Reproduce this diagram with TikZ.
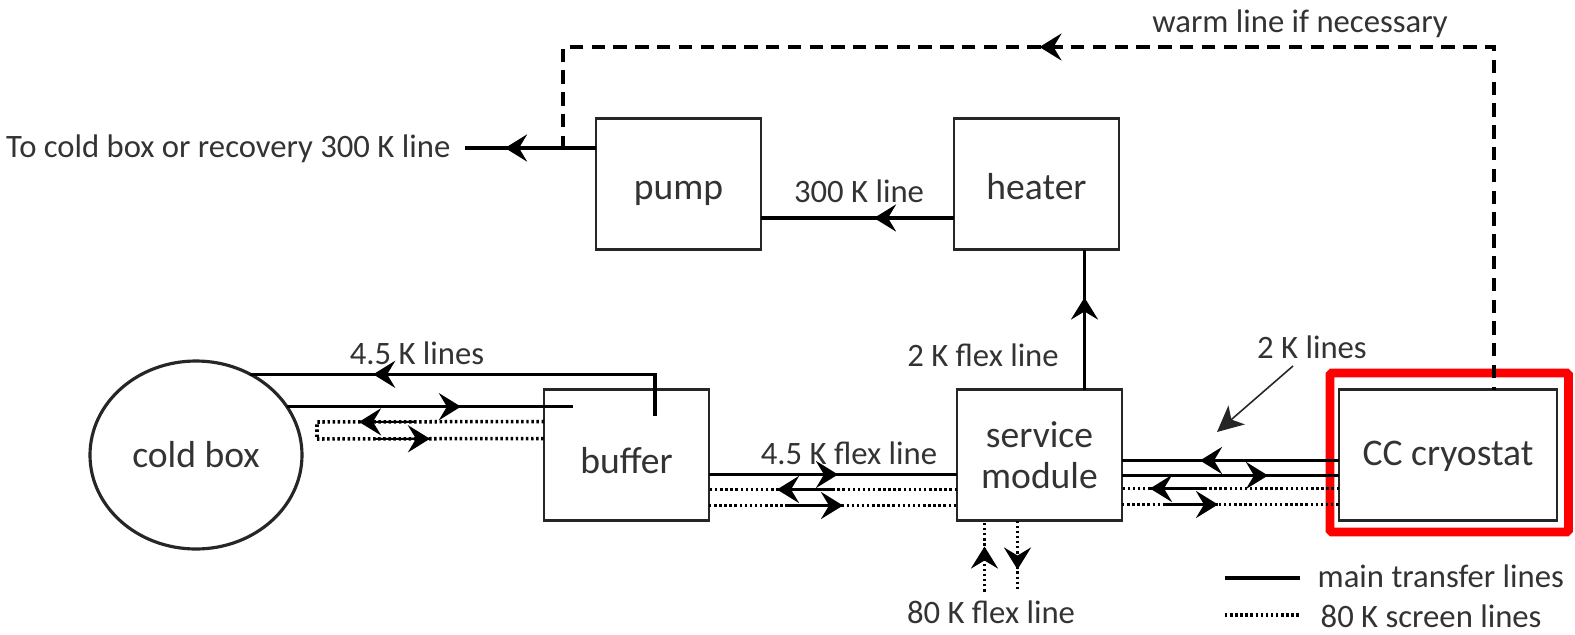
\documentclass[tikz,border=0pt]{standalone}
\usepackage{fontspec}
\setmainfont{Carlito}
\usetikzlibrary{positioning,shapes.geometric,arrows.meta,decorations.markings}

\begin{document}
\begin{tikzpicture}[
  bx/.style={draw=black!85, line width=0.8pt, minimum width=1.65cm, minimum height=1.31cm,
             align=center, inner sep=1pt, outer sep=0pt, text=black!80,
             font=\fontsize{10.7}{11.6}\selectfont},
  lowtxt/.style={text height=#1, text depth=0pt},
  lbl/.style={font=\fontsize{9.3}{11}\selectfont, text=black!80, inner sep=0pt},
  tp/.tip={Stealth[length=2.2mm, width=2.7mm, inset=0.8mm]},
  mainln/.style={draw=black, line width=1pt},
  scrln/.style={draw=black, line width=1pt, dash pattern=on 0.7pt off 0.75pt},
  warmln/.style={draw=black, line width=1pt, dash pattern=on 3.8pt off 2.4pt, dash phase=3pt},
  tipat/.style={postaction={decorate}, decoration={markings,
      mark=at position #1 with {\arrow{tp}}}},
  tailat/.style={postaction={decorate}, decoration={markings,
      mark=at position #1 with {\draw[solid, line width=0.6pt] (-0.55,0) -- (0,0); \arrow{tp}}}}
]
\useasboundingbox (0,0) rectangle (15.75,6.34);

\node[bx, lowtxt=0.30cm] (pump) at (6.785,4.50) {pump};
\node[bx, lowtxt=0.31cm, right=1.93cm of pump] (heater) {heater};
\node[bx, below=1.40cm of heater, xshift=0.03cm, yshift=-0.0cm] (svc) {service\\module};
\node[bx, lowtxt=0.37cm, left=2.48cm of svc] (buf) {buffer};
\node[bx, lowtxt=0.21cm, right=2.17cm of svc, minimum width=2.18cm] (cc) {CC cryostat};
\node[bx, ellipse, line width=0.9pt, minimum width=2.12cm, minimum height=1.88cm] (cold) at (1.96,1.79) {cold box};

\draw[red, line width=2.5pt, rounded corners=0.5pt]
  ([shift={(-0.09,0.165)}]cc.north west) rectangle ([shift={(0.115,-0.115)}]cc.south east);

% top loop and 300 K side
\coordinate (outend) at (4.65,4.86);
\coordinate (warmtl) at (5.63,5.87);
\draw[warmln, tipat=7.97cm] ([xshift=0.46cm]cc.north) |- (warmtl) -- (warmtl |- outend);
\draw[mainln, tipat=0.91cm] ([yshift=0.36cm]pump.west) -- (outend);
\draw[mainln, tipat=0.80cm] ([yshift=-0.34cm]heater.west) -- ([yshift=-0.34cm]pump.east);
\draw[mainln, tipat=0.92cm] ([xshift=0.45cm]svc.north) -- ([xshift=0.45cm]svc.north |- heater.south);

\node[lbl, left=0.14cm of outend, yshift=-0.01cm] (tolbl) {To cold box or recovery 300 K line};
\node[lbl] (warmlbl) at (13.00,6.10) {warm line if necessary};
\node[lbl] (l300) at (8.59,4.43) {300 K line};
\node[lbl] (l2flex) at (9.83,2.79) {2 K flex line};
\node[lbl] (l2) at (13.12,2.87) {2 K lines};
\node[lbl] (l45) at (4.17,2.81) {4.5 K lines};
\node[lbl] (l45flex) at (8.49,1.81) {4.5 K flex line};
\node[lbl] (l80flex) at (9.91,0.22) {80 K flex line};

% cold box to buffer
\draw[mainln, tipat=3.23cm] ([shift={(1.11,-0.26)}]buf.north west) |- (cold.56);
\draw[mainln, tipat=1.74cm] (cold.28.5) -- ([xshift=0.29cm]buf.west |- cold.28.5);
\coordinate (dlt) at (3.17,2.12);
\coordinate (dlb) at (3.17,1.95);
\draw[scrln, tailat=1.85cm] ([yshift=0.335cm]buf.west) -- (dlt) -- (dlb);
\draw[scrln, tailat=1.13cm] (dlb) -- ([yshift=0.165cm]buf.west);

% buffer to service module
\draw[mainln, tipat=1.29cm] ([yshift=-0.195cm]buf.east) -- ([yshift=-0.195cm]svc.west);
\draw[scrln, tailat=1.80cm] ([yshift=-0.345cm]svc.west) -- ([yshift=-0.345cm]buf.east);
\draw[scrln, tailat=1.34cm] ([yshift=-0.505cm]buf.east) -- ([yshift=-0.505cm]svc.west);

% service module to cryostat
\draw[mainln, tipat=1.39cm] ([yshift=-0.055cm]cc.west) -- ([yshift=-0.055cm]svc.east);
\draw[mainln, tipat=1.46cm] ([yshift=-0.205cm]svc.east) -- ([yshift=-0.205cm]cc.west);
\draw[scrln, tailat=1.89cm] ([yshift=-0.335cm]cc.west) -- ([yshift=-0.335cm]svc.east);
\draw[scrln, tailat=0.96cm] ([yshift=-0.495cm]svc.east) -- ([yshift=-0.495cm]cc.west);

% 80 K flex
\coordinate[below=0.71cm of svc.south, xshift=-0.55cm] (flexin);
\coordinate[below=0.71cm of svc.south, xshift=-0.22cm] (flexout);
\draw[scrln, tipat=0.45cm] (flexin) -- (flexin |- svc.south);
\draw[scrln, tipat=0.49cm] (flexout |- svc.south) -- (flexout);

% pointer
\coordinate (l2src) at (12.93,2.68);
\coordinate (l2tgt) at (12.17,2.02);
\draw[black!85, line width=0.45pt, -{Stealth[length=2.6mm, width=2.5mm, inset=0.7mm]}] (l2src) -- (l2tgt);

% legend
\coordinate (lga) at (12.25,0.56);
\coordinate (lgb) at (13.00,0.56);
\coordinate (lgc) at (12.25,0.19);
\coordinate (lgd) at (13.00,0.19);
\draw[mainln] (lga) -- (lgb);
\draw[scrln] (lgc) -- (lgd);
\node[lbl, anchor=west] (lgmain) at (13.17,0.58) {main transfer lines};
\node[lbl, anchor=west] (lgscr) at (13.20,0.18) {80 K screen lines};
\end{tikzpicture}
\end{document}
